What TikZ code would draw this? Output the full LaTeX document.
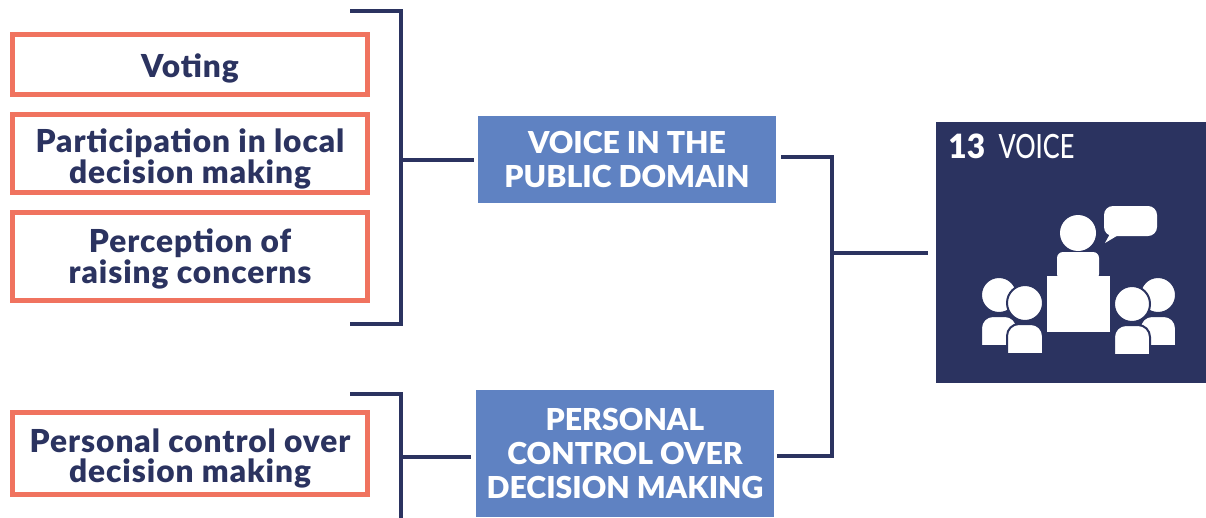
\documentclass[tikz,border=0pt]{standalone}
\usepackage{fontspec}
\setmainfont[BoldFont={Lato Black}]{Lato}
\newfontfamily\measurefont[LetterSpace=3]{Lato Black}
\newfontfamily\condfont[FakeStretch=0.76]{Lato Medium}
\newfontfamily\condboldfont[FakeStretch=0.95]{Lato Black}
\usepackage{xcolor}
\usetikzlibrary{calc}
\definecolor{navy}{HTML}{2B3360}
\definecolor{coral}{HTML}{F0735F}
\definecolor{domain}{HTML}{5F82C2}
\newcommand{\dropped}[2]{\raisebox{-#1}[\height][\depth]{#2}}

\begin{document}
\begin{tikzpicture}[x=0.02cm, y=-0.02cm,
    measure/.style={draw=coral, line width=0.09cm, minimum width=7.1cm, inner sep=0pt, align=center, text=navy, font=\fontsize{18}{17.6}\measurefont\selectfont},
    domainbox/.style={fill=domain, minimum width=5.96cm, inner sep=0pt, align=center, text=white, font=\fontsize{17.2}{19.5}\bfseries\selectfont},
    link/.style={draw=navy, line width=0.075cm},
    icon/.style={fill=white},
    crowd/.style={fill=white, draw=navy, line width=0.04cm}]

    \useasboundingbox (0,0) rectangle (1206,517);

    % left column
    \node[measure, minimum height=1.2cm] (voting) at (190,64.5) {\dropped{0.08cm}{Voting}};
    \node[measure, minimum height=1.56cm] (participation) at (190,153.5) {\dropped{0.1cm}{Participation in local}\\\dropped{0.1cm}{decision making}};
    \node[measure, minimum height=1.76cm] (perception) at (190,256.5) {\dropped{0.04cm}{Perception of}\\\dropped{0.04cm}{raising concerns}};
    \node[measure, minimum height=1.64cm] (control) at (190,453.5) {\dropped{0.1cm}{Personal control over}\\\dropped{0.1cm}{decision making}};

    % middle column
    \node[domainbox, minimum height=1.74cm] (public) at (627,159.5) {VOICE IN THE\\PUBLIC DOMAIN};
    \node[domainbox, minimum height=2.54cm] (personal) at (625,453.5) {PERSONAL\\CONTROL OVER\\DECISION MAKING};

    % goal square
    \node[fill=navy, minimum width=5.4cm, minimum height=5.22cm, inner sep=0pt] (voice) at (1071,252.5) {};
    \node[anchor=west, inner sep=0pt, text=white, font=\fontsize{19}{20}\selectfont] (voicelabel) at (948,146) {{\condboldfont 13}\hspace{0.4em}{\condfont VOICE}};

    % brackets
    \coordinate (topjoin) at (401,160);
    \coordinate (lowjoin) at (401,457);
    \coordinate (midtop) at (832,157);
    \coordinate (midlow) at (832,456);
    \coordinate (midjoin) at (832,253);
    \draw[link] (350,11) -| (401,324) -- (350,324);
    \draw[link] (350,394) -| (401,520) -- (350,520);
    \draw[link] (topjoin) -- ($(topjoin -| public.west)+(-4,0)$);
    \draw[link] (lowjoin) -- ($(lowjoin -| personal.west)+(-5,0)$);
    \draw[link] ($(midtop -| public.east)+(5,0)$) -- (midtop) -- (midlow) -- ($(midlow -| personal.east)+(3,0)$);
    \draw[link] (midjoin) -- ($(midjoin -| voice.west)+(-8,0)$);

    % speaker
    \fill[icon] (1078,233) circle (18);
    \fill[icon, rounded corners=0.12cm] (1057,280) -- (1057,252) -- (1099,252) -- (1099,280) -- cycle;
    \fill[icon] (1047,276) rectangle (1110,332);
    \fill[icon, rounded corners=0.18cm] (1104,206) rectangle (1157,236);
    \fill[icon] (1111,232) -- (1105,243) -- (1120,234) -- cycle;

    % audience
    \foreach \X/\Y in {999/295, 1158/295, 1025/303, 1132/304}{
        \filldraw[crowd] (\X,\Y) circle (18);
        \filldraw[crowd] (\X-18,\Y+51) [rounded corners=0.24cm] -- (\X-18,\Y+21) -- (\X+18,\Y+21) [sharp corners] -- (\X+18,\Y+51) -- cycle;
    }

\end{tikzpicture}
\end{document}
